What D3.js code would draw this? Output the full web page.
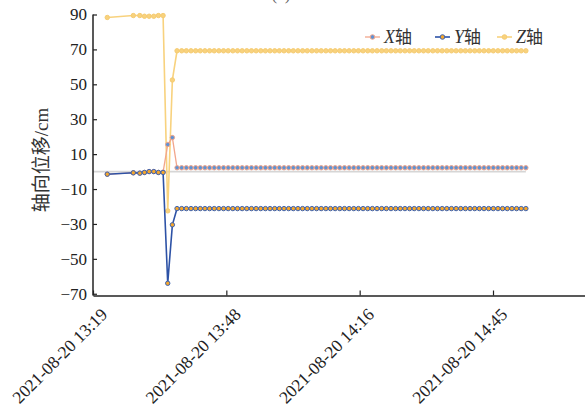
<!DOCTYPE html>
<html><head><meta charset="utf-8">
<script src="https://cdn.jsdelivr.net/npm/d3@7"></script>
<style>body{margin:0;background:#fff}svg{display:block}</style>
</head><body><svg id="c" width="585" height="410"></svg>
<script>
// ---- data ----
const times = [
"13:22:24","13:28:00","13:29:24","13:30:24","13:31:24","13:32:24","13:33:24","13:34:24","13:35:24","13:36:24",
"13:37:24","13:38:24","13:39:24","13:40:24","13:41:24","13:42:24","13:43:24","13:44:24","13:45:24","13:46:24",
"13:47:24","13:48:24","13:49:24","13:50:24","13:51:24","13:52:24","13:53:24","13:54:24","13:55:24","13:56:24",
"13:57:24","13:58:24","13:59:24","14:00:24","14:01:24","14:02:24","14:03:24","14:04:24","14:05:24","14:06:24",
"14:07:24","14:08:24","14:09:24","14:10:24","14:11:24","14:12:24","14:13:24","14:14:24","14:15:24","14:16:24",
"14:17:24","14:18:24","14:19:24","14:20:24","14:21:24","14:22:24","14:23:24","14:24:24","14:25:24","14:26:24",
"14:27:24","14:28:24","14:29:24","14:30:24","14:31:24","14:32:24","14:33:24","14:34:24","14:35:24","14:36:24",
"14:37:24","14:38:24","14:39:24","14:40:24","14:41:24","14:42:24","14:43:24","14:44:24","14:45:24","14:46:24",
"14:47:24","14:48:24","14:49:24","14:50:24","14:51:24","14:52:24"];
const datePrefix = "2021-08-20 ";
const seriesX = [
-1.5,-0.7,-0.9,-0.5,0,0,-0.5,-0.3,15.5,19.5,
2.2,2.2,2.2,2.2,2.2,2.2,2.2,2.2,2.2,2.2,2.2,2.2,2.2,2.2,2.2,2.2,2.2,2.2,2.2,
2.2,2.2,2.2,2.2,2.2,2.2,2.2,2.2,2.2,2.2,2.2,2.2,2.2,2.2,2.2,2.2,2.2,2.2,2.2,
2.2,2.2,2.2,2.2,2.2,2.2,2.2,2.2,2.2,2.2,2.2,2.2,2.2,2.2,2.2,2.2,2.2,2.2,2.2,
2.2,2.2,2.2,2.2,2.2,2.2,2.2,2.2,2.2,2.2,2.2,2.2,2.2,2.2,2.2,2.2,2.2,2.2,2.2];
const seriesY = [
-1.5,-0.7,-0.9,-0.5,0,0,-0.5,-0.5,-64,-30.5,
-21.2,-21.2,-21.2,-21.2,-21.2,-21.2,-21.2,-21.2,-21.2,-21.2,-21.2,-21.2,-21.2,-21.2,-21.2,-21.2,-21.2,-21.2,-21.2,
-21.2,-21.2,-21.2,-21.2,-21.2,-21.2,-21.2,-21.2,-21.2,-21.2,-21.2,-21.2,-21.2,-21.2,-21.2,-21.2,-21.2,-21.2,-21.2,
-21.2,-21.2,-21.2,-21.2,-21.2,-21.2,-21.2,-21.2,-21.2,-21.2,-21.2,-21.2,-21.2,-21.2,-21.2,-21.2,-21.2,-21.2,-21.2,
-21.2,-21.2,-21.2,-21.2,-21.2,-21.2,-21.2,-21.2,-21.2,-21.2,-21.2,-21.2,-21.2,-21.2,-21.2,-21.2,-21.2,-21.2,-21.2];
const seriesZ = [
88.3,89.4,89.4,89,89,89,89.4,89.4,-22.5,52.5,
69.2,69.2,69.2,69.2,69.2,69.2,69.2,69.2,69.2,69.2,69.2,69.2,69.2,69.2,69.2,69.2,69.2,69.2,69.2,
69.2,69.2,69.2,69.2,69.2,69.2,69.2,69.2,69.2,69.2,69.2,69.2,69.2,69.2,69.2,69.2,69.2,69.2,69.2,
69.2,69.2,69.2,69.2,69.2,69.2,69.2,69.2,69.2,69.2,69.2,69.2,69.2,69.2,69.2,69.2,69.2,69.2,69.2,
69.2,69.2,69.2,69.2,69.2,69.2,69.2,69.2,69.2,69.2,69.2,69.2,69.2,69.2,69.2,69.2,69.2,69.2,69.2];
const seriesNames = ["X", "Y", "Z"];
const yTickValues = [90, 70, 50, 30, 10, -10, -30, -50, -70];
const xTickLabels = ["2021-08-20 13:19:20", "2021-08-20 13:48:00", "2021-08-20 14:16:40", "2021-08-20 14:45:20"];
const yAxisTitle = "轴向位移/cm";
const panelTitle = "(a)";

// ---- layout / style ----
const svg = d3.select("#c");
const parse = d3.timeParse("%Y-%m-%d %H:%M:%S");
const tDates = times.map(t => parse(datePrefix + t));
const xTicks = xTickLabels.map(parse);

const x = d3.scaleTime().domain([xTicks[0], xTicks[3]]).range([93, 493]);
x.domain([xTicks[0], x.invert(600)]).range([93, 600]);
const y = d3.scaleLinear().domain([-71, 90]).range([295.5, 14.5]);

const serif = "'Liberation Serif','Times New Roman',serif";
const cjk = "'Liberation Serif','Noto Sans CJK SC',serif";

// zero reference line
svg.append("line")
  .attr("x1", x(xTicks[0])).attr("x2", x(tDates[tDates.length - 1]))
  .attr("y1", y(0)).attr("y2", y(0))
  .attr("stroke", "#d6d6d6").attr("stroke-width", 1.6);

const styles = {
  X: {line: "#f2a68c", lw: 1.3, fill: "#5f93d3", edge: "#f2a68c"},
  Y: {line: "#2d52a6", lw: 1.6, fill: "#f4a62c", edge: "#3b63b3"},
  Z: {line: "#f8d27e", lw: 1.6, fill: "#f8d27e", edge: "#f6cc72"}
};
const data = {X: seriesX, Y: seriesY, Z: seriesZ};

const lineGen = d3.line().x(d => x(d[0])).y(d => y(d[1]));
["Z", "X", "Y"].forEach(k => {
  const pts = tDates.map((t, i) => [t, data[k][i]]);
  const s = styles[k];
  svg.append("path").datum(pts).attr("d", lineGen)
    .attr("fill", "none").attr("stroke", s.line).attr("stroke-width", s.lw);
  svg.append("g").selectAll("circle").data(pts).join("circle")
    .attr("cx", d => x(d[0])).attr("cy", d => y(d[1])).attr("r", 2.2)
    .attr("fill", s.fill).attr("stroke", s.edge).attr("stroke-width", 1);
});

// axes
const gy = svg.append("g").attr("transform", "translate(93,0)")
  .call(d3.axisLeft(y).tickValues(yTickValues).tickSizeInner(-4).tickSizeOuter(0).tickPadding(6));
gy.select(".domain").attr("d", `M0,${y(90)}V${y(-71)}`);
const gx = svg.append("g").attr("transform", `translate(0,${y(-71)})`)
  .call(d3.axisBottom(x).tickValues(xTicks).tickFormat(d3.timeFormat("%Y-%m-%d %H:%M")).tickSizeInner(-5).tickSizeOuter(0));
[gx, gy].forEach(g => {
  g.select(".domain").attr("stroke", "#222").attr("stroke-width", 1.5);
  g.selectAll(".tick line").attr("stroke", "#222").attr("stroke-width", 1.2);
  g.selectAll("text").attr("fill", "#222").style("font-family", serif).style("font-size", "17px");
});
gx.selectAll(".tick text")
  .style("font-size", "17.5px")
  .attr("x", 0).attr("y", 0).attr("dy", 0)
  .attr("transform", "translate(15,20) rotate(-45)")
  .style("text-anchor", "end");

// y title
svg.append("text")
  .attr("transform", "translate(48,160) rotate(-90)")
  .attr("text-anchor", "middle")
  .style("font-family", cjk).style("font-size", "19px").attr("fill", "#333")
  .text(yAxisTitle);

// panel title (mostly cut off at top, as in the reference)
svg.append("text").attr("x", 281).attr("y", 0).attr("text-anchor", "middle")
  .style("font-family", serif).style("font-size", "17px").attr("fill", "#666").text(panelTitle);

// legend
const legendX = [365, 435, 497];
seriesNames.forEach((k, i) => {
  const s = styles[k];
  const g = svg.append("g").attr("transform", `translate(${legendX[i]},37)`);
  g.append("line").attr("x1", 0).attr("x2", 15).attr("y1", 0).attr("y2", 0)
    .attr("stroke", s.line).attr("stroke-width", s.lw);
  g.append("circle").attr("cx", 7.5).attr("cy", 0).attr("r", 2.3)
    .attr("fill", s.fill).attr("stroke", s.edge).attr("stroke-width", 1);
  const t = g.append("text").attr("x", 19).attr("y", 6).attr("fill", "#333")
    .style("font-size", "18px");
  t.append("tspan").style("font-family", serif).style("font-style", "italic").text(k);
  t.append("tspan").style("font-family", "'Noto Sans CJK SC',sans-serif").style("font-size", "17px").text("轴");
});
</script>
</body></html>
